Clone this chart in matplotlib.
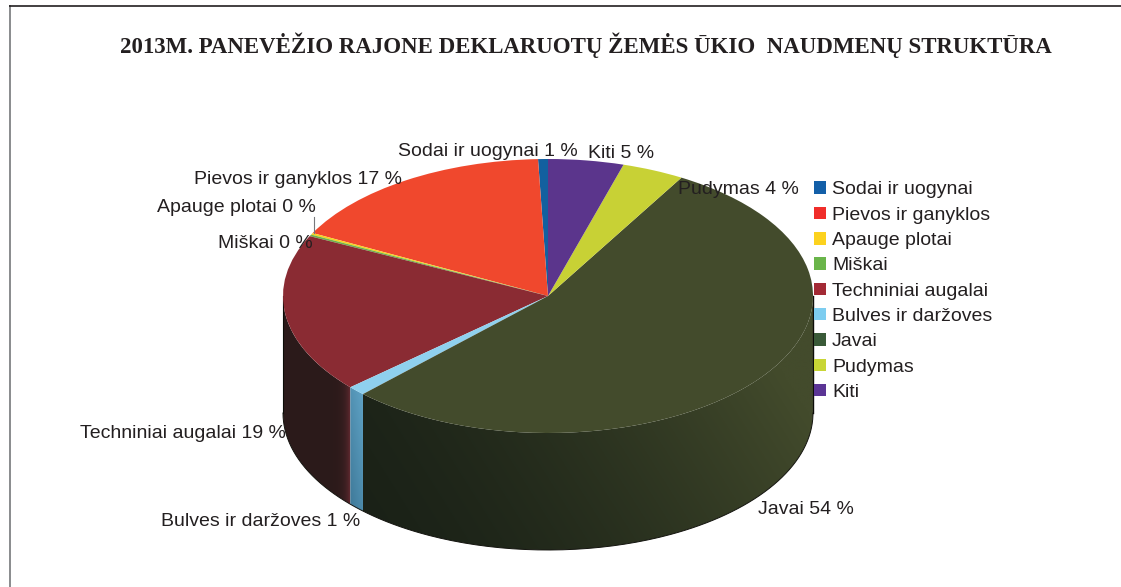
import numpy as np
from matplotlib import pyplot as plt
from matplotlib.colors import to_rgb
from matplotlib.patches import Patch, PathPatch
from matplotlib.path import Path

title = '2013M. PANEVĖŽIO RAJONE DEKLARUOTŲ ŽEMĖS ŪKIO  NAUDMENŲ STRUKTŪRA'
categories = ['Sodai ir uogynai', 'Pievos ir ganyklos', 'Apauge plotai', 'Miškai',
              'Techniniai augalai', 'Bulves ir daržoves', 'Javai', 'Pudymas', 'Kiti']
values = [0.6, 16.8, 0.2, 0.2, 18.8, 1.1, 53.9, 3.8, 4.6]
shown_percent = [1, 17, 0, 0, 19, 1, 54, 4, 5]

top_colors = ['#13609f', '#f0482d', '#f7d11e', '#6db34a', '#8a2b33',
              '#8fd0ee', '#434b2c', '#c8d135', '#5b358c']
legend_colors = ['#135fa8', '#f02d2a', '#fcd21e', '#6ab54a', '#a32a35',
                 '#7dcdf0', '#3a5a38', '#c8d535', '#5b3595']
# label anchor (left x, middle y) in picture pixels
label_pos = [(398, 152), (194, 180), (157, 208), (218, 243), (80, 434),
             (161, 522), (758, 510), (678, 189), (588, 153)]

DEPTH = 117 / 137  # height of the cylinder wall, in units of the vertical radius

plt.rcParams['font.family'] = ['Liberation Sans', 'DejaVu Sans']
fig = plt.figure(figsize=(11.21, 5.87), dpi=100)

# page layer in picture pixels
page = fig.add_axes([0, 0, 1, 1])
page.set_xlim(0, 1121)
page.set_ylim(587, 0)
page.axis('off')
page.plot([9.5, 9.5], [5, 587], color='#808285', lw=1.3, solid_capstyle='butt')
page.plot([9, 1121], [5.5, 5.5], color='#231f20', lw=1.2, solid_capstyle='butt')
page.text(586, 45, title, family='Liberation Serif', fontweight='bold', fontsize=16.5,
          color='#231f20', ha='center', va='center')

# pie layer: x -1..1 and y -1..1 fill the top ellipse
ax = fig.add_axes([283 / 1121, 37 / 587, 530 / 1121, 391 / 587])
wedges, _ = ax.pie(values, colors=top_colors, startangle=90, radius=1,
                   wedgeprops={'linewidth': 0})
for w in wedges:
    w.set_zorder(5)


def wall_path(a1, a2):
    t = np.radians(np.linspace(a1, a2, 120))
    x = np.cos(t)
    y = np.sin(t)
    xs = np.r_[x, x[::-1], x[0]]
    ys = np.r_[y, y[::-1] - DEPTH, y[0]]
    return Path(np.c_[xs, ys])


def wall(a1, a2, start, end, wx=1.0, wy=0.0, power=1.0):
    # wall piece with a colour ramp, wx and wy weigh the two directions
    a1 = max(a1, 180)
    a2 = min(a2, 360)
    x0, x1 = np.cos(np.radians([a1, a2]))
    u, v = np.meshgrid(np.linspace(0, 1, 300), np.linspace(0, 1, 120))
    ramp = np.clip(wx * u + wy * v, 0, 1) ** power
    c0 = np.array(to_rgb(start))
    c1 = np.array(to_rgb(end))
    img = c0 + (c1 - c0) * ramp[:, :, None]
    im = ax.imshow(img, extent=(x0, x1, -1 - DEPTH, 0), origin='lower', aspect='auto',
                   interpolation='bilinear', zorder=2)
    patch = PathPatch(wall_path(a1, a2), facecolor='none', edgecolor='none')
    ax.add_patch(patch)
    im.set_clip_path(patch)


edges = 90 + 3.6 * np.cumsum([0] + values)
wall(edges[4], edges[5], '#2b1a1a', '#6a2c34', power=14)
wall(edges[5], edges[6], '#37708f', '#6fb6da', wx=0.25, wy=0.75)
wall(edges[6], edges[7], '#1a2117', '#434b2c', wx=0.85, wy=0.3, power=1.5)

# thin dark rim on the wall
rim = np.radians(np.linspace(180, 360, 200))
ax.plot(np.cos(rim), np.sin(rim) - DEPTH, color='#14140f', lw=0.7, zorder=3, clip_on=False)
ax.plot([1, 1], [0, -DEPTH], color='#0c0c08', lw=1.0, zorder=3, clip_on=False)
ax.plot([-1, -1], [0, -DEPTH], color='#0c0c08', lw=0.8, zorder=3, clip_on=False)

ax.set_aspect('auto')
ax.set_xlim(-1, 1)
ax.set_ylim(-1 - DEPTH, 1)

# point labels and the one leader line
page.set_zorder(3)
page.patch.set_alpha(0)
for name, pct, (x, y) in zip(categories, shown_percent, label_pos):
    page.text(x, y, f'{name} {pct} %', fontsize=14, color='#231f20', va='center', ha='left', zorder=20)
page.plot([314, 314], [217, 233], color='#77787b', lw=0.8)

handles = [Patch(facecolor=c, edgecolor='none') for c in legend_colors]
page.legend(handles, categories, loc='upper left', bbox_to_anchor=(808 / 1121, 1 - 175.5 / 587),
            frameon=False, fontsize=14, labelcolor='#231f20', handlelength=0.62, handleheight=0.62,
            handletextpad=0.31, labelspacing=0.42, borderpad=0.3, borderaxespad=0)

fig.savefig('out.png', dpi=100)
